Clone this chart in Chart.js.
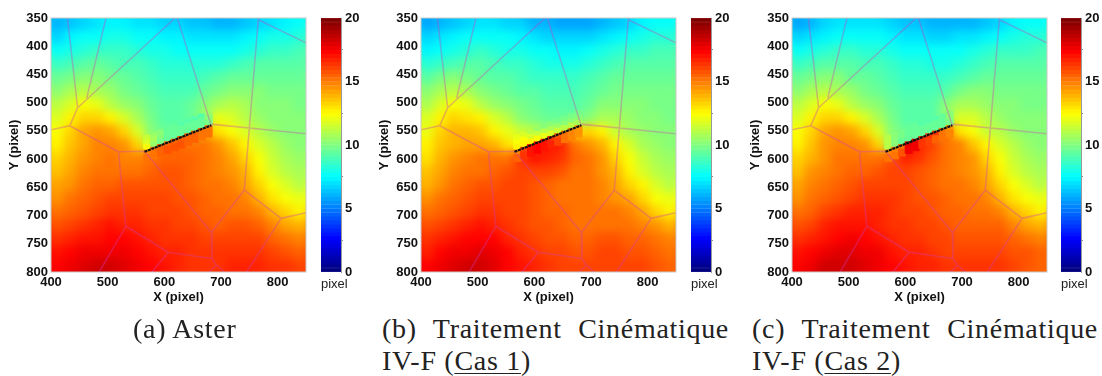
<!DOCTYPE html>
<html>
<head>
<meta charset="utf-8">
<title>Champs de déplacement</title>
<script src="https://cdn.jsdelivr.net/npm/chart.js@4"></script>
<style>
  html, body { margin: 0; padding: 0; background: #fff; overflow: hidden; }
  body { width: 1102px; height: 376px; position: relative; }
  canvas { position: absolute; }
  .heat { position: absolute; top: 18px; width: 255px; height: 254px; overflow: hidden; }
  .heat canvas { left: -20px; top: -20px; filter: blur(4px); }
  .unit { position: absolute; top: 276px; font: 13px "Liberation Sans", Arial, sans-serif; color: #222; }
  .cap { position: absolute; font: 28px/32px "Liberation Serif", serif; color: #222; letter-spacing: 0.7px; }
  .cap .l1 { display: block; text-align: justify; text-align-last: justify; word-spacing: 4px; }
  .cap u { text-underline-offset: 3px; text-decoration-thickness: 1px; }
</style>
</head>
<body>
<div class="heat" style="left:51px"><canvas id="heatA"></canvas></div>
<div class="heat" style="left:421px"><canvas id="heatB"></canvas></div>
<div class="heat" style="left:792px"><canvas id="heatC"></canvas></div>
<canvas id="mapA" style="left:0;top:0"></canvas>
<canvas id="barA" style="left:300px;top:0"></canvas>
<canvas id="mapB" style="left:370px;top:0"></canvas>
<canvas id="barB" style="left:670px;top:0"></canvas>
<canvas id="mapC" style="left:741px;top:0"></canvas>
<canvas id="barC" style="left:1040px;top:0"></canvas>
<div class="unit" style="left:321px">pixel</div>
<div class="unit" style="left:691px">pixel</div>
<div class="unit" style="left:1061px">pixel</div>
<div class="cap" style="left:133px;top:313px">(a) Aster</div>
<div class="cap" style="left:382px;top:313px;width:347px"><span class="l1">(b) Traitement Cinématique</span>IV-F (<u>Cas 1</u>)</div>
<div class="cap" style="left:752px;top:313px;width:346px"><span class="l1">(c) Traitement Cinématique</span>IV-F (<u>Cas 2</u>)</div>
<script>
// grid nodes of the maps, in image pixels
const xNodes = [400,425,450,475,500,525,550,575,600,625,650,675,700,725,750,775,800,825,850];
const yNodes = [350,375,400,425,450,475,500,525,550,575,600,625,650,675,700,725,750,775,800];

const valuesAster = [
  [6.0,6.3,6.7,7.0,7.2,7.2,7.0,6.9,6.7,6.6,6.4,6.3,6.2,6.2,6.3,6.7,7.1,7.4,7.5],
  [6.8,7.2,7.5,7.8,7.9,7.9,7.7,7.5,7.4,7.2,7.1,7.0,7.0,7.1,7.2,7.6,7.9,8.1,8.2],
  [7.6,8.0,8.3,8.6,8.6,8.5,8.3,8.1,8.0,7.8,7.7,7.6,7.6,7.8,8.1,8.4,8.6,8.7,8.8],
  [8.6,8.9,9.2,9.4,9.2,9.0,8.8,8.6,8.4,8.3,8.2,8.2,8.4,8.7,9.0,9.1,9.2,9.2,9.2],
  [9.5,9.9,10.1,10.0,9.7,9.4,9.2,8.9,8.7,8.7,8.7,8.8,9.1,9.4,9.6,9.6,9.6,9.5,9.5],
  [10.3,10.9,11.2,10.9,10.4,9.9,9.5,9.2,9.0,9.0,9.0,9.4,9.9,10.2,10.2,10.0,9.9,9.8,9.7],
  [11.0,11.8,12.4,12.0,11.2,10.5,10.0,9.5,9.2,9.2,9.4,10.2,10.9,11.0,10.7,10.3,10.1,10.0,9.9],
  [11.7,12.6,13.4,13.4,12.8,11.8,10.7,9.8,9.3,9.2,9.4,10.8,11.9,11.7,11.1,10.6,10.3,10.1,10.0],
  [12.2,13.3,14.2,14.5,14.2,13.3,11.6,10.3,9.6,9.4,9.4,14.0,13.0,12.3,11.6,11.0,10.5,10.2,10.1],
  [12.7,13.7,14.3,14.8,14.8,14.5,13.2,11.0,15.5,15.5,15.3,15.0,14.6,13.6,12.7,11.7,11.0,10.5,10.3],
  [13.2,14.0,14.5,14.9,15.0,14.9,14.7,15.3,15.6,15.6,15.4,15.1,14.8,14.3,13.2,12.2,11.3,10.8,10.5],
  [13.6,14.3,14.8,15.1,15.3,15.2,15.2,15.4,15.7,15.7,15.4,15.2,14.9,14.5,13.8,12.7,11.7,11.1,10.8],
  [14.1,14.6,15.1,15.4,15.6,15.8,15.9,15.9,15.9,15.8,15.6,15.3,15.0,14.7,14.2,13.2,12.2,11.6,11.2],
  [14.5,15.0,15.4,15.7,16.0,16.1,16.2,16.1,16.0,15.9,15.7,15.4,15.2,15.0,14.7,13.9,13.0,12.3,11.9],
  [15.2,15.5,15.9,16.2,16.4,16.5,16.4,16.2,16.1,16.0,15.9,15.6,15.4,15.3,15.2,14.8,13.9,13.2,12.8],
  [15.8,16.2,16.5,16.7,16.9,16.8,16.6,16.4,16.3,16.2,16.1,15.9,15.6,15.7,15.7,15.5,14.8,14.2,13.8],
  [16.3,16.7,17.0,17.1,17.2,17.2,16.9,16.7,16.5,16.4,16.3,16.2,16.0,16.2,16.2,16.0,15.6,15.2,14.9],
  [16.9,17.3,17.6,17.7,17.7,17.6,17.3,17.0,16.7,16.6,16.5,16.3,16.4,16.4,16.4,16.3,16.1,15.8,15.6],
  [17.2,17.7,18.1,18.3,18.2,18.0,17.6,17.2,16.9,16.7,16.5,16.4,16.5,16.6,16.6,16.6,16.5,16.3,16.0]
];

const valuesCas1 = [
  [5.8,6.1,6.5,6.8,7.0,7.0,6.8,6.6,6.2,6.0,5.9,5.8,5.9,6.0,6.3,6.8,7.2,7.5,7.6],
  [6.6,7.0,7.3,7.6,7.8,7.7,7.5,7.2,7.0,6.8,6.7,6.7,6.8,7.0,7.4,7.8,8.0,8.2,8.3],
  [7.4,7.8,8.1,8.4,8.5,8.3,8.1,7.9,7.7,7.5,7.4,7.4,7.6,7.9,8.2,8.5,8.7,8.8,8.8],
  [8.4,8.7,9.0,9.2,9.1,8.9,8.7,8.5,8.3,8.1,8.0,8.1,8.3,8.6,8.9,9.1,9.2,9.2,9.2],
  [9.3,9.7,10.0,9.9,9.6,9.3,9.1,8.9,8.7,8.6,8.6,8.7,8.9,9.2,9.4,9.5,9.5,9.5,9.5],
  [10.2,10.8,11.1,10.8,10.3,9.9,9.6,9.3,9.1,9.0,9.0,9.0,9.2,9.6,9.7,9.8,9.8,9.7,9.7],
  [10.9,11.7,12.3,12.0,11.2,10.6,10.1,9.7,9.4,9.2,9.1,9.2,9.6,10.0,10.2,10.1,10.0,9.9,9.8],
  [11.6,12.5,13.2,13.1,12.5,11.7,11.0,10.3,9.8,9.5,9.4,9.6,10.2,10.7,10.7,10.4,10.1,10.0,9.9],
  [12.1,13.2,13.8,14.0,13.6,12.8,12.0,11.5,11.0,10.6,10.6,13.0,13.4,12.6,11.5,10.9,10.4,10.2,10.0],
  [12.6,13.5,14.0,14.2,14.3,13.8,13.0,12.6,16.5,17.0,16.6,15.2,14.6,13.9,12.8,11.6,10.9,10.5,10.2],
  [13.1,13.9,14.4,14.8,15.0,15.0,15.3,16.5,17.0,16.8,16.3,15.5,15.0,14.5,13.4,12.2,11.3,10.8,10.4],
  [13.6,14.2,14.8,15.1,15.3,15.4,15.7,16.0,16.2,16.1,15.7,15.3,15.0,14.6,13.9,12.8,11.8,11.2,10.7],
  [14.0,14.6,15.1,15.5,15.7,15.8,16.0,16.0,15.9,15.6,15.3,15.2,15.0,14.8,14.3,13.4,12.6,11.6,11.1],
  [14.5,15.0,15.4,15.8,16.0,16.1,16.1,16.0,15.8,15.6,15.3,15.1,15.0,14.9,14.6,14.2,13.4,12.4,11.9],
  [15.0,15.5,15.9,16.2,16.4,16.3,16.2,16.0,15.8,15.6,15.4,15.2,15.0,15.0,15.0,14.8,14.2,13.3,12.8],
  [15.7,16.1,16.4,16.7,16.9,16.7,16.3,16.1,15.9,15.7,15.5,15.3,15.3,15.3,15.3,15.2,14.9,14.4,13.8],
  [16.3,16.7,17.0,17.3,17.4,17.2,16.8,16.4,16.1,15.9,15.7,15.6,15.6,15.7,15.7,15.6,15.4,15.1,14.7],
  [16.8,17.2,17.6,17.8,17.9,17.7,17.2,16.7,16.4,16.2,16.0,15.9,15.9,16.0,16.0,15.9,15.7,15.5,15.2],
  [17.2,17.6,18.0,18.2,18.2,17.9,17.4,17.0,16.6,16.3,16.1,16.0,16.1,16.2,16.2,16.1,16.0,15.7,15.4]
];

const valuesCas2 = [
  [5.9,6.2,6.6,6.9,7.1,7.1,6.9,6.7,6.5,6.3,6.1,6.0,6.0,6.1,6.3,6.8,7.2,7.5,7.6],
  [6.7,7.1,7.4,7.7,7.8,7.8,7.6,7.3,7.1,6.9,6.8,6.8,6.9,7.1,7.4,7.7,8.0,8.2,8.2],
  [7.5,7.9,8.2,8.5,8.5,8.4,8.2,8.0,7.8,7.6,7.5,7.5,7.6,7.9,8.2,8.5,8.6,8.7,8.8],
  [8.5,8.8,9.1,9.3,9.1,9.0,8.8,8.6,8.4,8.2,8.1,8.1,8.3,8.6,8.9,9.1,9.2,9.2,9.2],
  [9.4,9.8,10.0,10.0,9.6,9.4,9.2,8.9,8.7,8.6,8.6,8.7,9.0,9.3,9.5,9.5,9.5,9.5,9.5],
  [10.2,10.8,11.1,10.9,10.4,9.9,9.5,9.2,9.0,9.0,9.0,9.3,9.7,10.0,10.0,9.9,9.8,9.7,9.7],
  [11.0,11.8,12.4,12.0,11.2,10.5,10.0,9.5,9.2,9.2,9.3,10.0,10.7,10.8,10.5,10.2,10.0,9.9,9.9],
  [11.7,12.6,13.3,13.3,12.7,11.8,10.7,9.8,9.3,9.2,9.3,10.5,11.8,11.6,11.0,10.6,10.3,10.1,10.0],
  [12.2,13.3,14.2,14.5,14.2,13.2,11.6,10.0,9.4,9.4,9.4,15.0,13.0,12.3,11.5,11.0,10.5,10.2,10.0],
  [12.7,13.7,14.4,14.8,14.8,14.6,13.2,10.2,17.5,16.8,16.0,15.0,14.7,13.6,12.7,11.7,11.0,10.5,10.3],
  [13.2,14.0,14.6,15.0,15.1,15.1,15.1,15.8,16.6,16.3,15.8,15.2,14.9,14.4,13.2,12.2,11.3,10.8,10.5],
  [13.7,14.4,14.9,15.2,15.4,15.5,15.9,16.1,16.1,15.9,15.6,15.2,14.9,14.5,13.8,12.7,11.7,11.1,10.8],
  [14.1,14.7,15.2,15.6,15.9,16.1,16.2,16.1,16.0,15.8,15.6,15.3,15.0,14.7,14.2,13.2,12.2,11.6,11.2],
  [14.6,15.1,15.5,15.9,16.2,16.4,16.4,16.3,16.1,15.9,15.7,15.4,15.2,15.0,14.7,13.9,13.0,12.3,11.9],
  [15.1,15.6,16.0,16.3,16.6,16.7,16.6,16.4,16.2,16.0,15.9,15.6,15.4,15.3,15.2,14.8,13.9,13.2,12.8],
  [15.8,16.2,16.6,16.9,17.0,17.0,16.8,16.5,16.3,16.2,16.0,15.9,15.6,15.6,15.6,15.4,14.8,14.2,13.8],
  [16.3,16.7,17.1,17.4,17.5,17.4,17.1,16.8,16.5,16.4,16.2,16.1,15.9,15.9,15.9,15.8,15.5,15.1,14.8],
  [16.9,17.3,17.7,18.0,18.0,17.8,17.5,17.1,16.8,16.6,16.4,16.2,16.1,16.1,16.1,16.1,15.9,15.7,15.4],
  [17.2,17.7,18.2,18.4,18.4,18.1,17.8,17.4,17.0,16.8,16.6,16.4,16.3,16.3,16.4,16.3,16.2,15.9,15.5]
];

// sharp cells either side of the crack: columns, then offsets from the crack in y
const crackCols = [570,582,594,606,618,630,642,654,666,678];
const crackOffsets = [-21,-13,-5,5,13];

const crackAster = [
  [11.4,10.6,10.0,9.6,9.4,9.3,9.3,9.3,9.3,10.4],
  [11.8,10.8,10.0,9.6,9.4,9.4,9.4,9.4,9.4,10.3],
  [12.2,10.6,9.8,9.6,9.5,9.4,9.4,9.4,9.5,9.8],
  [14.8,15.2,15.5,15.6,15.6,15.6,15.6,15.5,15.3,15.0],
  [15.0,15.3,15.6,15.7,15.7,15.7,15.6,15.4,15.2,15.0]
];
const crackCas1 = [
  [12.0,11.7,11.0,10.6,10.2,10.0,9.8,9.7,9.7,9.9],
  [12.4,12.3,11.8,11.4,11.0,10.7,10.5,10.3,10.2,10.2],
  [12.7,12.8,12.5,12.3,12.0,11.8,11.5,11.2,11.0,10.8],
  [14.8,16.0,17.0,17.2,17.0,16.5,15.8,15.0,14.7,14.4],
  [15.4,16.5,17.0,17.2,17.0,16.6,16.0,15.3,14.9,14.6]
];
const crackCas2 = [
  [11.2,10.2,9.7,9.5,9.4,9.3,9.3,9.3,9.5,10.3],
  [11.2,10.0,9.7,9.5,9.4,9.4,9.4,9.4,9.5,10.0],
  [11.0,10.0,9.6,9.5,9.4,9.4,9.4,9.4,9.5,9.8],
  [14.8,14.8,15.2,18.0,17.8,16.5,16.5,16.3,15.2,14.6],
  [15.0,15.2,15.8,17.8,17.5,16.5,16.2,15.6,15.0,14.8]
];

// grain boundaries, each segment [x1, y1, x2, y2]
const meshSegments = [
  [429,350,447,509], [497,350,463,492], [619,350,447,509], [623,350,682,538],
  [766,353,850,394], [766,350,741,655], [447,509,433,541], [400,548,433,541],
  [433,541,519,587], [519,587,565,586], [519,587,532,719], [565,586,683,730],
  [741,655,683,730], [683,730,684,776], [741,655,806,705], [806,705,850,695],
  [806,705,745,800], [682,538,850,555], [532,719,485,800], [532,719,607,765],
  [607,765,684,776], [607,765,578,800], [684,776,692,788], [692,788,706,800],
  [692,788,679,800]
];
const crackLine = [[565,587],[683,540]];
const colorbarTicks = [0,5,10,15,20];

function jet(v) {
  const t = Math.min(Math.floor(v / 20 * 64), 63) / 63;
  const c = k => Math.round(255 * Math.max(0, Math.min(1, 1.5 - Math.abs(4 * t - k))));
  return `rgb(${c(3)},${c(2)},${c(1)})`;
}

const axisFont = { family: '"Liberation Sans", Arial, sans-serif', size: 13, weight: 'bold' };

const framePlugin = {
  id: 'framePlugin',
  afterDraw(chart) {
    const a = chart.chartArea, ctx = chart.ctx;
    ctx.save();
    ctx.strokeStyle = '#c8c8c8';
    ctx.lineWidth = 1;
    ctx.strokeRect(a.left, a.top, a.width, a.height);
    ctx.restore();
  }
};

// colour cells on their own canvas, softened by css and cut to the plot box
function drawHeat(id, rows) {
  const el = document.getElementById(id);
  el.width = 295; el.height = 294;
  el.style.width = '295px'; el.style.height = '294px';
  const cells = [], colors = [], edge = [], edgeColors = [];
  yNodes.forEach((y, r) => xNodes.forEach((x, c) => {
    cells.push({ x, y });
    colors.push(jet(rows[r][c]));
    if (r === 0 || c === 0 || r === yNodes.length - 1 || c === xNodes.length - 1) {
      edge.push({ x, y });
      edgeColors.push(jet(rows[r][c]));
    }
  }));
  new Chart(el, {
    type: 'scatter',
    data: {
      datasets: [
        { data: cells, clip: false, pointStyle: 'rect', pointRadius: 10.3, pointBorderWidth: 0, pointBackgroundColor: colors },
        { data: edge, clip: false, pointStyle: 'rect', pointRadius: 26, pointBorderWidth: 0, pointBackgroundColor: edgeColors }
      ]
    },
    options: {
      responsive: false,
      animation: false,
      layout: { padding: 20 },
      plugins: { legend: { display: false }, tooltip: { enabled: false } },
      scales: {
        x: { type: 'linear', min: 400, max: 850, display: false },
        y: { type: 'linear', reverse: true, min: 350, max: 800, display: false }
      }
    }
  });
}

function drawMap(id, crackRows) {
  const el = document.getElementById(id);
  el.width = 320; el.height = 305;
  el.style.width = '320px'; el.style.height = '305px';
  const mesh = [];
  meshSegments.forEach(s => mesh.push({ x: s[0], y: s[1] }, { x: s[2], y: s[3] }, { x: null, y: null }));
  const slope = (crackLine[1][1] - crackLine[0][1]) / (crackLine[1][0] - crackLine[0][0]);
  const near = [], nearColors = [];
  crackOffsets.forEach((off, r) => crackCols.forEach((x, c) => {
    near.push({ x, y: crackLine[0][1] + (x - crackLine[0][0]) * slope + off });
    nearColors.push(jet(crackRows[r][c]));
  }));
  new Chart(el, {
    type: 'scatter',
    data: {
      datasets: [
        { data: crackLine.map(p => ({ x: p[0], y: p[1] })), showLine: true, borderColor: '#111', borderWidth: 2.2, borderDash: [3, 0.7], pointRadius: 0 },
        { data: mesh, showLine: true, spanGaps: false, borderColor: 'rgba(205,60,185,0.36)', borderWidth: 1.6, pointRadius: 0 },
        { data: near, pointStyle: 'rect', pointRadius: 5.6, pointBorderWidth: 0, pointBackgroundColor: nearColors }
      ]
    },
    options: {
      responsive: false,
      animation: false,
      layout: { padding: { top: 18, right: 14, left: 0, bottom: 0 } },
      plugins: { legend: { display: false }, tooltip: { enabled: false } },
      scales: {
        x: {
          type: 'linear', min: 400, max: 850,
          afterFit(s) { s.height = 33; },
          afterBuildTicks(s) { s.ticks = [400,500,600,700,800].map(value => ({ value })); },
          grid: { display: false, drawTicks: false },
          border: { display: false },
          ticks: { font: axisFont, color: '#111', padding: 3, maxRotation: 0 },
          title: { display: true, text: 'X (pixel)', font: axisFont, color: '#111', padding: { top: 0, bottom: 0 } }
        },
        y: {
          type: 'linear', reverse: true, min: 350, max: 800,
          afterFit(s) { s.width = 51; },
          grid: { display: false, drawTicks: false },
          border: { display: false },
          ticks: { stepSize: 50, font: axisFont, color: '#111', padding: 3 },
          title: { display: true, text: 'Y (pixel)', font: axisFont, color: '#111', padding: { top: 7, bottom: 0 } }
        }
      }
    },
    plugins: [framePlugin]
  });
}

function drawColorbar(id) {
  const el = document.getElementById(id);
  el.width = 62; el.height = 305;
  el.style.width = '62px'; el.style.height = '305px';
  const levels = Array.from({ length: 64 }, (_, i) => (i + 0.5) * 20 / 64);
  new Chart(el, {
    type: 'bar',
    data: {
      datasets: [{
        data: levels.map(v => ({ x: 1, y: v })),
        backgroundColor: levels.map(jet),
        borderColor: levels.map(jet),
        borderWidth: 0.5,
        barPercentage: 1,
        categoryPercentage: 1
      }]
    },
    options: {
      indexAxis: 'y',
      responsive: false,
      animation: false,
      layout: { padding: { top: 18, left: 21, right: 0, bottom: 0 } },
      plugins: { legend: { display: false }, tooltip: { enabled: false } },
      scales: {
        x: {
          type: 'linear', min: 0, max: 1,
          afterFit(s) { s.height = 33; },
          grid: { display: false, drawTicks: false },
          border: { display: false },
          ticks: { display: false }
        },
        y: {
          type: 'linear', position: 'right', min: 0, max: 20, offset: false,
          afterFit(s) { s.width = 21; },
          grid: { drawOnChartArea: false, tickLength: 2, color: '#888' },
          border: { color: '#999' },
          afterBuildTicks(s) { s.ticks = colorbarTicks.map(value => ({ value })); },
          ticks: { font: axisFont, color: '#111', padding: 2 }
        }
      }
    }
  });
}

drawHeat('heatA', valuesAster);
drawHeat('heatB', valuesCas1);
drawHeat('heatC', valuesCas2);
drawMap('mapA', crackAster);
drawMap('mapB', crackCas1);
drawMap('mapC', crackCas2);
drawColorbar('barA');
drawColorbar('barB');
drawColorbar('barC');
</script>
</body>
</html>
